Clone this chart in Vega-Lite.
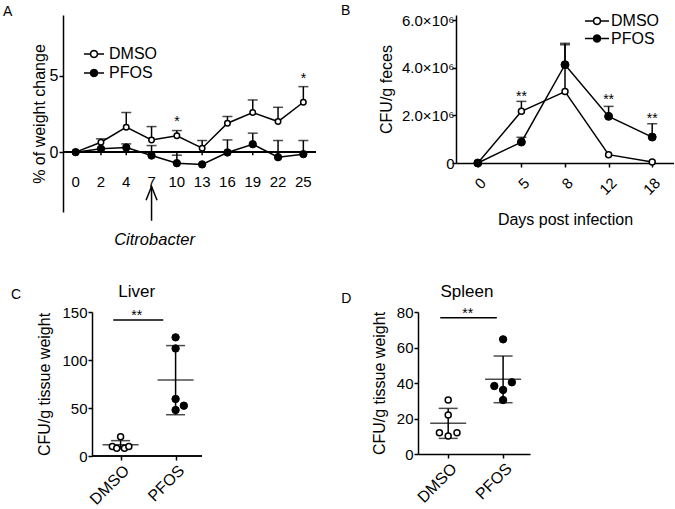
{
  "$schema": "https://vega.github.io/schema/vega-lite/v6.json",
  "background": "white",
  "padding": {"left": 3, "top": 4, "right": 0, "bottom": 0},
  "config": {
    "font": "Liberation Sans",
    "view": {"stroke": null},
    "axis": {"grid": false, "domainColor": "black", "tickColor": "black", "labelColor": "black", "titleColor": "black", "domainWidth": 1.5, "tickWidth": 1.5, "titleFontWeight": "normal", "labelFont": "Liberation Sans", "titleFont": "Liberation Sans", "labelOverlap": false},
    "title": {"font": "Liberation Sans", "fontWeight": "normal", "color": "black"},
    "text": {"font": "Liberation Sans", "color": "black"},
    "legend": {"labelFont": "Liberation Sans", "labelColor": "black"}
  },
  "datasets": {
    "weight": [
      {"day": 0, "group": "DMSO", "mean": 0, "err": null},
      {"day": 2, "group": "DMSO", "mean": 0.65, "err": 0.87},
      {"day": 4, "group": "DMSO", "mean": 1.63, "err": 2.59},
      {"day": 7, "group": "DMSO", "mean": 0.8, "err": 1.67},
      {"day": 10, "group": "DMSO", "mean": 1.07, "err": 1.41},
      {"day": 13, "group": "DMSO", "mean": 0.26, "err": 0.76},
      {"day": 16, "group": "DMSO", "mean": 1.89, "err": 2.33},
      {"day": 19, "group": "DMSO", "mean": 2.59, "err": 3.41},
      {"day": 22, "group": "DMSO", "mean": 2.0, "err": 2.93},
      {"day": 25, "group": "DMSO", "mean": 3.26, "err": 4.28},
      {"day": 0, "group": "PFOS", "mean": 0, "err": null},
      {"day": 2, "group": "PFOS", "mean": 0.22, "err": null},
      {"day": 4, "group": "PFOS", "mean": 0.3, "err": 0.54},
      {"day": 7, "group": "PFOS", "mean": -0.22, "err": 0.43},
      {"day": 10, "group": "PFOS", "mean": -0.72, "err": -0.2},
      {"day": 13, "group": "PFOS", "mean": -0.8, "err": null},
      {"day": 16, "group": "PFOS", "mean": -0.02, "err": 0.8},
      {"day": 19, "group": "PFOS", "mean": 0.52, "err": 1.24},
      {"day": 22, "group": "PFOS", "mean": -0.33, "err": 0.76},
      {"day": 25, "group": "PFOS", "mean": -0.13, "err": 0.76}
    ],
    "weightNotes": [
      {"day": 10, "y": 1.7, "label": "*"},
      {"day": 25, "y": 4.5, "label": "*"}
    ],
    "arrow": [{"day": 7, "bottom": -4.48, "tip": -2.25, "textY": -6.05, "label": "Citrobacter"}],
    "cfu": [
      {"day": 0, "group": "DMSO", "mean": 0, "err": null},
      {"day": 5, "group": "DMSO", "mean": 2170000, "err": 2590000},
      {"day": 8, "group": "DMSO", "mean": 3000000, "err": 4970000},
      {"day": 12, "group": "DMSO", "mean": 350000, "err": null},
      {"day": 18, "group": "DMSO", "mean": 40000, "err": null},
      {"day": 0, "group": "PFOS", "mean": 0, "err": null},
      {"day": 5, "group": "PFOS", "mean": 880000, "err": 1080000},
      {"day": 8, "group": "PFOS", "mean": 4130000, "err": 5030000},
      {"day": 12, "group": "PFOS", "mean": 1960000, "err": 2380000},
      {"day": 18, "group": "PFOS", "mean": 1090000, "err": 1650000}
    ],
    "cfuNotes": [
      {"day": 5, "y": 2600000, "label": "**"},
      {"day": 12, "y": 2460000, "label": "**"},
      {"day": 18, "y": 1690000, "label": "**"}
    ],
    "liverPts": [
      {"group": "DMSO", "x": 1.0, "value": 20},
      {"group": "DMSO", "x": 0.85, "value": 10},
      {"group": "DMSO", "x": 0.93, "value": 8},
      {"group": "DMSO", "x": 1.07, "value": 8},
      {"group": "DMSO", "x": 1.15, "value": 10},
      {"group": "PFOS", "x": 2.0, "value": 123.6},
      {"group": "PFOS", "x": 2.0, "value": 112},
      {"group": "PFOS", "x": 2.0, "value": 59.4},
      {"group": "PFOS", "x": 2.15, "value": 52.4},
      {"group": "PFOS", "x": 2.0, "value": 47.9}
    ],
    "liverStats": [
      {"group": "DMSO", "x": 1, "mean": 11.8, "lo": 7.6, "hi": 16},
      {"group": "PFOS", "x": 2, "mean": 79.2, "lo": 43, "hi": 115}
    ],
    "liverNotes": [
      {"x": 0.867, "x2": 1.776, "y": 141.7, "label": "**", "tx": 1.293}
    ],
    "liverLabels": [
      {"x": 1.293, "y": 165.6, "label": "Liver", "kind": "title"},
      {"x": -0.992, "y": 163.5, "label": "C", "kind": "panel"}
    ],
    "spleenPts": [
      {"group": "DMSO", "x": 1.0, "value": 30.4},
      {"group": "DMSO", "x": 1.0, "value": 22},
      {"group": "DMSO", "x": 0.84, "value": 12},
      {"group": "DMSO", "x": 1.0, "value": 10.1},
      {"group": "DMSO", "x": 1.16, "value": 12},
      {"group": "PFOS", "x": 2.0, "value": 64.6},
      {"group": "PFOS", "x": 1.84, "value": 38.3},
      {"group": "PFOS", "x": 2.0, "value": 36.1},
      {"group": "PFOS", "x": 2.16, "value": 40.4},
      {"group": "PFOS", "x": 2.0, "value": 30.4}
    ],
    "spleenStats": [
      {"group": "DMSO", "x": 1, "mean": 17.3, "lo": 8.8, "hi": 25.7},
      {"group": "PFOS", "x": 2, "mean": 42.1, "lo": 28.9, "hi": 55.2}
    ],
    "spleenNotes": [
      {"x": 0.855, "x2": 1.886, "y": 76.8, "label": "**", "tx": 1.354}
    ],
    "spleenLabels": [
      {"x": 1.341, "y": 88.5, "label": "Spleen", "kind": "title"},
      {"x": -0.95, "y": 85.1, "label": "D", "kind": "panel"}
    ]
  },
  "columns": 1,
  "align": "none",
  "spacing": 33,
  "resolve": {"scale": {"fill": "independent"}, "legend": {"fill": "independent"}},
  "concat": [
    {
      "spacing": 24,
      "resolve": {"scale": {"fill": "independent"}, "legend": {"fill": "independent"}},
      "hconcat": [
        {
          "width": 253,
          "height": 197,
          "title": {"text": "A", "anchor": "start", "frame": "group", "dx": -60, "fontSize": 14, "baseline": "alphabetic", "offset": -14.6},
          "layer": [
            {
              "data": {"name": "weight"},
              "transform": [{"filter": "datum.err != null"}],
              "mark": {"type": "rule", "color": "black", "strokeWidth": 1.5},
              "encoding": {
                "x": {"field": "day", "type": "ordinal", "scale": {"type": "point", "padding": 0.5}, "axis": null},
                "y": {"field": "mean", "type": "quantitative", "scale": {"domain": [-3.91, 8.96], "nice": false, "zero": false},
                  "axis": {"values": [0, 5], "title": "% of weight change", "titleFontSize": 16, "labelFontSize": 16, "tickSize": 4, "labelPadding": 1, "titlePadding": 2}},
                "y2": {"field": "err"}
              }
            },
            {
              "data": {"name": "weight"},
              "mark": {"type": "rule", "color": "black", "strokeWidth": 1.5},
              "encoding": {"y": {"datum": 0, "type": "quantitative"}}
            },
            {
              "data": {"name": "weight"},
              "transform": [{"filter": "datum.group == 'DMSO'"}],
              "mark": {"type": "rule", "color": "black", "strokeWidth": 1.5},
              "encoding": {
                "x": {"field": "day", "type": "ordinal"},
                "y": {"datum": 0, "type": "quantitative"},
                "y2": {"datum": -0.2}
              }
            },
            {
              "data": {"name": "weight"},
              "transform": [{"filter": "datum.group == 'DMSO'"}],
              "mark": {"type": "text", "fontSize": 15, "baseline": "alphabetic"},
              "encoding": {
                "x": {"field": "day", "type": "ordinal"},
                "y": {"datum": -2.29, "type": "quantitative"},
                "text": {"field": "day", "type": "ordinal"}
              }
            },
            {
              "data": {"name": "weight"},
              "transform": [{"filter": "datum.err != null"}],
              "mark": {"type": "tick", "orient": "horizontal", "color": "black", "thickness": 1.5, "size": 10},
              "encoding": {
                "x": {"field": "day", "type": "ordinal"},
                "y": {"field": "err", "type": "quantitative"}
              }
            },
            {
              "data": {"name": "weight"},
              "mark": {"type": "line", "color": "black", "strokeWidth": 1.5},
              "encoding": {
                "x": {"field": "day", "type": "ordinal"},
                "y": {"field": "mean", "type": "quantitative"},
                "detail": {"field": "group"}
              }
            },
            {
              "data": {"name": "weight"},
              "transform": [{"filter": "datum.group == 'DMSO'"}],
              "mark": {"type": "point", "shape": "circle", "filled": true, "stroke": "black", "strokeWidth": 1.5, "opacity": 1, "size": 30},
              "encoding": {
                "x": {"field": "day", "type": "ordinal"},
                "y": {"field": "mean", "type": "quantitative"},
                "fill": {"field": "group", "type": "nominal", "scale": {"domain": ["DMSO", "PFOS"], "range": ["white", "black"]},
                  "legend": {"title": null, "orient": "none", "legendX": 22, "legendY": 30, "symbolType": "M-1.25,0L-0.44,0M0.44,0L1.25,0M0.44,0L0.381,0.22L0.22,0.381L0,0.44L-0.22,0.381L-0.381,0.22L-0.44,0L-0.381,-0.22L-0.22,-0.381L0,-0.44L0.22,-0.381L0.381,-0.22Z", "symbolSize": 256, "symbolStrokeColor": "black", "symbolStrokeWidth": 1.5, "symbolOpacity": 1, "labelFontSize": 16, "labelOffset": 6, "rowPadding": 2, "padding": 0}}
              }
            },
            {
              "data": {"name": "weight"},
              "transform": [{"filter": "datum.group == 'PFOS'"}],
              "mark": {"type": "point", "shape": "circle", "filled": true, "stroke": "black", "strokeWidth": 1, "opacity": 1, "size": 55},
              "encoding": {
                "x": {"field": "day", "type": "ordinal"},
                "y": {"field": "mean", "type": "quantitative"},
                "fill": {"field": "group", "type": "nominal"}
              }
            },
            {
              "data": {"name": "weightNotes"},
              "mark": {"type": "text", "fontSize": 14, "baseline": "alphabetic"},
              "encoding": {
                "x": {"field": "day", "type": "ordinal"},
                "y": {"field": "y", "type": "quantitative"},
                "text": {"field": "label"}
              }
            },
            {
              "data": {"name": "arrow"},
              "mark": {"type": "rule", "color": "black", "strokeWidth": 1.5},
              "encoding": {
                "x": {"field": "day", "type": "ordinal"},
                "y": {"field": "bottom", "type": "quantitative"},
                "y2": {"field": "tip"}
              }
            },
            {
              "data": {"name": "arrow"},
              "mark": {"type": "point", "shape": "M-1,2.5L0,0L1,2.5", "size": 121, "filled": false, "stroke": "black", "strokeWidth": 1.5, "opacity": 1},
              "encoding": {
                "x": {"field": "day", "type": "ordinal"},
                "y": {"field": "tip", "type": "quantitative"}
              }
            },
            {
              "data": {"name": "arrow"},
              "mark": {"type": "text", "fontSize": 16.5, "fontStyle": "italic", "baseline": "alphabetic", "dx": 3},
              "encoding": {
                "x": {"field": "day", "type": "ordinal"},
                "y": {"field": "textY", "type": "quantitative"},
                "text": {"field": "label"}
              }
            }
          ]
        },
        {
          "width": 218,
          "height": 148,
          "title": {"text": "B", "anchor": "start", "frame": "group", "dx": -115, "fontSize": 14, "baseline": "alphabetic", "offset": -17},
          "layer": [
            {
              "data": {"name": "cfu"},
              "transform": [{"filter": "datum.err != null"}],
              "mark": {"type": "rule", "color": "black", "strokeWidth": 1.5},
              "encoding": {
                "x": {"field": "day", "type": "ordinal", "scale": {"type": "point", "padding": 0.5},
                  "axis": {"title": "Days post infection", "labelAngle": -45, "labelFontSize": 15, "tickSize": 4, "labelPadding": 8, "titleFontSize": 16, "titlePadding": 14}},
                "y": {"field": "mean", "type": "quantitative", "scale": {"domain": [0, 6220000], "nice": false},
                  "axis": {"values": [0, 2000000, 4000000, 6000000], "labelExpr": "datum.value == 0 ? '0' : format(datum.value / 1000000, '.1f') + '×10⁶'", "title": "CFU/g feces", "titleFontSize": 16, "titlePadding": 7, "labelFontSize": 15, "tickSize": 4, "labelPadding": -2}},
                "y2": {"field": "err"}
              }
            },
            {
              "data": {"name": "cfu"},
              "transform": [{"filter": "datum.err != null"}],
              "mark": {"type": "tick", "orient": "horizontal", "color": "black", "thickness": 1.5, "size": 10},
              "encoding": {
                "x": {"field": "day", "type": "ordinal"},
                "y": {"field": "err", "type": "quantitative"}
              }
            },
            {
              "data": {"name": "cfu"},
              "mark": {"type": "line", "color": "black", "strokeWidth": 1.5},
              "encoding": {
                "x": {"field": "day", "type": "ordinal"},
                "y": {"field": "mean", "type": "quantitative"},
                "detail": {"field": "group"}
              }
            },
            {
              "data": {"name": "cfu"},
              "transform": [{"filter": "datum.group == 'DMSO'"}],
              "mark": {"type": "point", "shape": "circle", "filled": true, "stroke": "black", "strokeWidth": 1.5, "opacity": 1, "size": 36},
              "encoding": {
                "x": {"field": "day", "type": "ordinal"},
                "y": {"field": "mean", "type": "quantitative"},
                "fill": {"field": "group", "type": "nominal", "scale": {"domain": ["DMSO", "PFOS"], "range": ["white", "black"]},
                  "legend": {"title": null, "orient": "none", "legendX": 132, "legendY": -3, "symbolType": "M-1.5,0L-0.44,0M0.44,0L1.5,0M0.44,0L0.381,0.22L0.22,0.381L0,0.44L-0.22,0.381L-0.381,0.22L-0.44,0L-0.381,-0.22L-0.22,-0.381L0,-0.44L0.22,-0.381L0.381,-0.22Z", "symbolSize": 256, "symbolStrokeColor": "black", "symbolStrokeWidth": 1.5, "symbolOpacity": 1, "labelFontSize": 16, "labelOffset": 5, "rowPadding": 0.5, "padding": 0}}
              }
            },
            {
              "data": {"name": "cfu"},
              "transform": [{"filter": "datum.group == 'PFOS'"}],
              "mark": {"type": "point", "shape": "circle", "filled": true, "stroke": "black", "strokeWidth": 1, "opacity": 1, "size": 64},
              "encoding": {
                "x": {"field": "day", "type": "ordinal"},
                "y": {"field": "mean", "type": "quantitative"},
                "fill": {"field": "group", "type": "nominal"}
              }
            },
            {
              "data": {"name": "cfuNotes"},
              "mark": {"type": "text", "fontSize": 14, "baseline": "alphabetic"},
              "encoding": {
                "x": {"field": "day", "type": "ordinal"},
                "y": {"field": "y", "type": "quantitative"},
                "text": {"field": "label"}
              }
            }
          ]
        }
      ]
    },
    {
      "spacing": 138,
      "hconcat": [
        {
          "width": 139,
          "height": 144,
          "layer": [
            {
              "data": {"name": "liverStats"},
              "mark": {"type": "rule", "color": "black", "strokeWidth": 1.5},
              "encoding": {
                "x": {"field": "x", "type": "quantitative", "scale": {"domain": [-0.047, 2.48], "nice": false, "zero": false},
                  "axis": {"values": [1, 2], "labelExpr": "datum.value == 1 ? 'DMSO' : 'PFOS'", "title": null, "domain": false, "labelAngle": -45, "labelFontSize": 16, "tickSize": 4, "labelPadding": 2}},
                "y": {"field": "lo", "type": "quantitative", "scale": {"domain": [0, 150], "nice": false},
                  "axis": {"values": [0, 50, 100, 150], "offset": -29, "title": "CFU/g tissue weight", "titleFontSize": 16, "titlePadding": 9, "labelFontSize": 15, "tickSize": 4, "labelPadding": 1, "labelOverlap": false}},
                "y2": {"field": "hi"}
              }
            },
            {
              "data": {"name": "liverStats"},
              "mark": {"type": "rule", "color": "black", "strokeWidth": 1.5},
              "encoding": {
                "x": {"datum": 0.48, "type": "quantitative"},
                "x2": {"datum": 2.48},
                "y": {"datum": 0, "type": "quantitative"}
              }
            },
            {
              "data": {"name": "liverStats"},
              "mark": {"type": "tick", "orient": "horizontal", "color": "black", "thickness": 1.5, "size": 19},
              "encoding": {"x": {"field": "x", "type": "quantitative"}, "y": {"field": "lo", "type": "quantitative"}}
            },
            {
              "data": {"name": "liverStats"},
              "mark": {"type": "tick", "orient": "horizontal", "color": "black", "thickness": 1.5, "size": 19},
              "encoding": {"x": {"field": "x", "type": "quantitative"}, "y": {"field": "hi", "type": "quantitative"}}
            },
            {
              "data": {"name": "liverStats"},
              "mark": {"type": "tick", "orient": "horizontal", "color": "black", "thickness": 1.5, "size": 36},
              "encoding": {"x": {"field": "x", "type": "quantitative"}, "y": {"field": "mean", "type": "quantitative"}}
            },
            {
              "data": {"name": "liverPts"},
              "transform": [{"filter": "datum.group == 'DMSO'"}],
              "mark": {"type": "point", "shape": "circle", "filled": true, "fill": "white", "stroke": "black", "strokeWidth": 1.5, "opacity": 1, "size": 36},
              "encoding": {"x": {"field": "x", "type": "quantitative"}, "y": {"field": "value", "type": "quantitative"}}
            },
            {
              "data": {"name": "liverPts"},
              "transform": [{"filter": "datum.group == 'PFOS'"}],
              "mark": {"type": "point", "shape": "circle", "filled": true, "fill": "black", "stroke": "black", "strokeWidth": 1, "opacity": 1, "size": 55},
              "encoding": {"x": {"field": "x", "type": "quantitative"}, "y": {"field": "value", "type": "quantitative"}}
            },
            {
              "data": {"name": "liverNotes"},
              "mark": {"type": "rule", "color": "black", "strokeWidth": 1.5},
              "encoding": {"x": {"field": "x", "type": "quantitative"}, "x2": {"field": "x2"}, "y": {"field": "y", "type": "quantitative"}}
            },
            {
              "data": {"name": "liverNotes"},
              "mark": {"type": "text", "fontSize": 14, "baseline": "alphabetic"},
              "encoding": {"x": {"field": "tx", "type": "quantitative"}, "y": {"field": "y", "type": "quantitative"}, "text": {"field": "label"}}
            },
            {
              "data": {"name": "liverLabels"},
              "transform": [{"filter": "datum.kind == 'title'"}],
              "mark": {"type": "text", "fontSize": 17, "baseline": "alphabetic", "align": "center"},
              "encoding": {"x": {"field": "x", "type": "quantitative"}, "y": {"field": "y", "type": "quantitative"}, "text": {"field": "label"}}
            },
            {
              "data": {"name": "liverLabels"},
              "transform": [{"filter": "datum.kind == 'panel'"}],
              "mark": {"type": "text", "fontSize": 14, "baseline": "alphabetic", "align": "left"},
              "encoding": {"x": {"field": "x", "type": "quantitative"}, "y": {"field": "y", "type": "quantitative"}, "text": {"field": "label"}}
            }
          ]
        },
        {
          "width": 112,
          "height": 142,
          "layer": [
            {
              "data": {"name": "spleenStats"},
              "mark": {"type": "rule", "color": "black", "strokeWidth": 1.5},
              "encoding": {
                "x": {"field": "x", "type": "quantitative", "scale": {"domain": [0.45, 2.49], "nice": false, "zero": false},
                  "axis": {"values": [1, 2], "labelExpr": "datum.value == 1 ? 'DMSO' : 'PFOS'", "title": null, "labelAngle": -45, "labelFontSize": 16, "tickSize": 4, "labelPadding": 2}},
                "y": {"field": "lo", "type": "quantitative", "scale": {"domain": [0, 80], "nice": false},
                  "axis": {"tickCount": 4, "title": "CFU/g tissue weight", "titleFontSize": 16, "titlePadding": 9, "labelFontSize": 15, "tickSize": 4, "labelPadding": 1, "labelOverlap": false, "labelSeparation": 0}},
                "y2": {"field": "hi"}
              }
            },
            {
              "data": {"name": "spleenStats"},
              "mark": {"type": "tick", "orient": "horizontal", "color": "black", "thickness": 1.5, "size": 19},
              "encoding": {"x": {"field": "x", "type": "quantitative"}, "y": {"field": "lo", "type": "quantitative"}}
            },
            {
              "data": {"name": "spleenStats"},
              "mark": {"type": "tick", "orient": "horizontal", "color": "black", "thickness": 1.5, "size": 19},
              "encoding": {"x": {"field": "x", "type": "quantitative"}, "y": {"field": "hi", "type": "quantitative"}}
            },
            {
              "data": {"name": "spleenStats"},
              "mark": {"type": "tick", "orient": "horizontal", "color": "black", "thickness": 1.5, "size": 36},
              "encoding": {"x": {"field": "x", "type": "quantitative"}, "y": {"field": "mean", "type": "quantitative"}}
            },
            {
              "data": {"name": "spleenPts"},
              "transform": [{"filter": "datum.group == 'DMSO'"}],
              "mark": {"type": "point", "shape": "circle", "filled": true, "fill": "white", "stroke": "black", "strokeWidth": 1.5, "opacity": 1, "size": 36},
              "encoding": {"x": {"field": "x", "type": "quantitative"}, "y": {"field": "value", "type": "quantitative"}}
            },
            {
              "data": {"name": "spleenPts"},
              "transform": [{"filter": "datum.group == 'PFOS'"}],
              "mark": {"type": "point", "shape": "circle", "filled": true, "fill": "black", "stroke": "black", "strokeWidth": 1, "opacity": 1, "size": 55},
              "encoding": {"x": {"field": "x", "type": "quantitative"}, "y": {"field": "value", "type": "quantitative"}}
            },
            {
              "data": {"name": "spleenNotes"},
              "mark": {"type": "rule", "color": "black", "strokeWidth": 1.5},
              "encoding": {"x": {"field": "x", "type": "quantitative"}, "x2": {"field": "x2"}, "y": {"field": "y", "type": "quantitative"}}
            },
            {
              "data": {"name": "spleenNotes"},
              "mark": {"type": "text", "fontSize": 14, "baseline": "alphabetic"},
              "encoding": {"x": {"field": "tx", "type": "quantitative"}, "y": {"field": "y", "type": "quantitative"}, "text": {"field": "label"}}
            },
            {
              "data": {"name": "spleenLabels"},
              "transform": [{"filter": "datum.kind == 'title'"}],
              "mark": {"type": "text", "fontSize": 17, "baseline": "alphabetic", "align": "center"},
              "encoding": {"x": {"field": "x", "type": "quantitative"}, "y": {"field": "y", "type": "quantitative"}, "text": {"field": "label"}}
            },
            {
              "data": {"name": "spleenLabels"},
              "transform": [{"filter": "datum.kind == 'panel'"}],
              "mark": {"type": "text", "fontSize": 14, "baseline": "alphabetic", "align": "left"},
              "encoding": {"x": {"field": "x", "type": "quantitative"}, "y": {"field": "y", "type": "quantitative"}, "text": {"field": "label"}}
            }
          ]
        }
      ]
    }
  ]
}
